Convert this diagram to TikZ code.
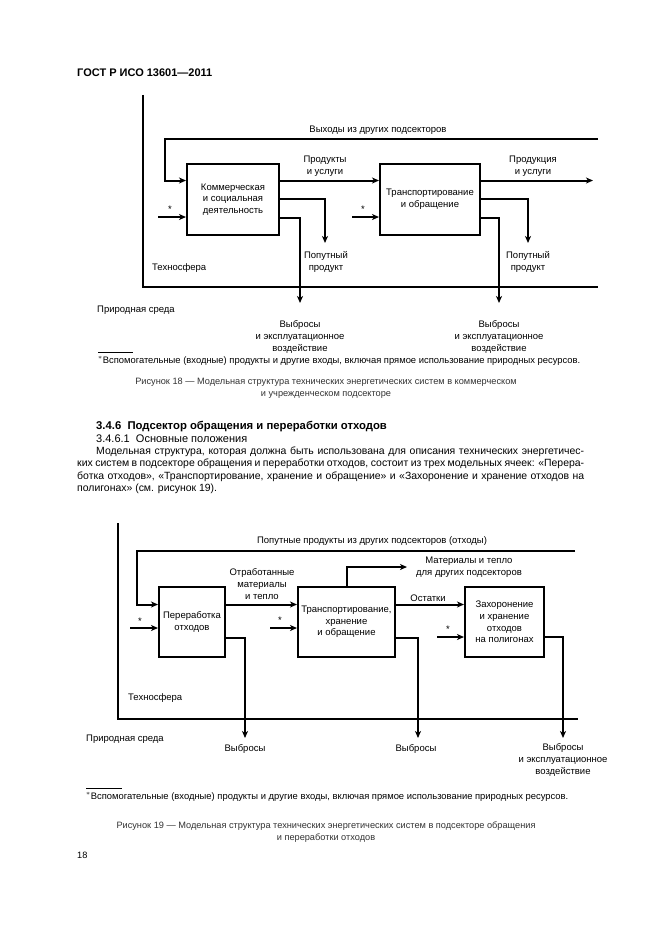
\documentclass[tikz,border=0pt]{standalone}
\usepackage{fontspec}
\setmainfont{Liberation Sans}
\usetikzlibrary{arrows.meta,calc}
\newcommand\dgf{\fontsize{9.5}{11.6}\selectfont}
\newcommand\bdf{\fontsize{10.45}{12.5}\selectfont}
\newcommand\cpf{\fontsize{9.2}{12}\selectfont}
\newcommand\fnf{\fontsize{9.4}{10}\selectfont}
\tikzset{
  ln/.style={line width=2pt},
  arr/.style={line width=2pt,-{Stealth[length=7pt,width=6pt,inset=2pt]}},
  blk/.style={draw,line width=2pt,inner sep=0pt,font=\dgf,align=center},
  lbl/.style={font=\dgf,align=center,inner sep=0pt},
  lbw/.style={font=\dgf,anchor=west,inner sep=0pt},
  body/.style={font=\bdf,anchor=west,inner sep=0pt},
  captxt/.style={font=\cpf,align=center,inner sep=0pt,text=black!80},
  fn/.style={font=\fnf,anchor=west,inner sep=0pt},
}
\begin{document}
\begin{tikzpicture}[x=1pt,y=-1pt]
\useasboundingbox[fill=white] (0,0) rectangle (661,936);
% header
\node[anchor=west,inner sep=0pt,font=\fontsize{11}{13}\selectfont\bfseries] (hdr) at (77,73) {ГОСТ Р ИСО 13601—2011};

% ---------------- Figure 18 ----------------
\coordinate (f18tl) at (143,95);
\coordinate (f18bl) at (143,287);
\coordinate (f18br) at (598,287);
\draw[ln] (f18tl) -- (f18bl) -- (f18br);
\node[lbl] (vyh) at (378,130) {Выходы из других подсекторов};
\coordinate (t18r) at (598,139);
\coordinate (t18l) at (165,139);
\node[blk,minimum width=92pt,minimum height=71pt] (b1) at (233,199.5) {Коммерческая\\и социальная\\деятельность};
\node[blk,minimum width=100pt,minimum height=71pt] (b2) at (430,199.5) {Транспортирование\\и обращение};
\coordinate (b1i1) at ($(b1.north west)!.24!(b1.south west)$);
\coordinate (b1i2) at ($(b1.north west)!.74!(b1.south west)$);
\coordinate (b1o1) at ($(b1.north east)!.24!(b1.south east)$);
\coordinate (b1o2) at ($(b1.north east)!.49!(b1.south east)$);
\coordinate (b1o3) at ($(b1.north east)!.76!(b1.south east)$);
\coordinate (b2i2) at ($(b2.north west)!.74!(b2.south west)$);
\coordinate (b2o2) at ($(b2.north east)!.49!(b2.south east)$);
\coordinate (b2o3) at ($(b2.north east)!.76!(b2.south east)$);
\draw[arr] (t18r) -- (t18l) |- (b1i1);
\coordinate (s1) at (158,0);
\node[lbl] (s1l) at (170,209) {*};
\draw[arr] (s1 |- b1i2) -- (b1i2);
\coordinate (s2) at (352,0);
\node[lbl] (s2l) at (363,209) {*};
\draw[arr] (s2 |- b2i2) -- (b2i2);
\draw[arr] (b1o1) -- (b1o1 -| b2.west);
\node[lbl] (pu) at (325,166) {Продукты\\и услуги};
\coordinate (pp1) at (325,243);
\draw[arr] (b1o2) -| (pp1);
\coordinate (vb1) at (300,303);
\draw[arr] (b1o3) -| (vb1);
\coordinate (po2) at (593,0);
\draw[arr] (b1o1 -| b2.east) -- (b1o1 -| po2);
\node[lbl] (pru) at (533,166) {Продукция\\и услуги};
\coordinate (pp2) at (528,243);
\draw[arr] (b2o2) -| (pp2);
\coordinate (vb2) at (499,303);
\draw[arr] (b2o3) -| (vb2);
\node[lbl] (ppl1) at (326,262) {Попутный\\продукт};
\node[lbl] (ppl2) at (528,262) {Попутный\\продукт};
\node[lbw] (tex1) at (152,268) {Техносфера};
\node[lbw] (pri1) at (97,310) {Природная среда};
\node[lbl] (vbl1) at (300,337) {Выбросы\\и эксплуатационное\\воздействие};
\node[lbl] (vbl2) at (499,337) {Выбросы\\и эксплуатационное\\воздействие};
\coordinate (fl1a) at (98,352);
\coordinate (fl1b) at (133,352);
\draw[line width=0.8pt] (fl1a) -- (fl1b);
\node[fn] (fn1) at (98,361) {$^{*}$Вспомогательные (входные) продукты и другие входы, включая прямое использование природных ресурсов.};
\node[captxt] (cap18) at (326,388) {Рисунок 18 — Модельная структура технических энергетических систем в коммерческом\\и учрежденческом подсекторе};

% ---------------- Text ----------------
\node[body,font=\fontsize{11.3}{13}\selectfont\bfseries] (h346) at (96,427) {3.4.6\ \ Подсектор обращения и переработки отходов};
\node[body,font=\fontsize{11}{13}\selectfont] (h3461) at (96,439) {3.4.6.1\ \ Основные положения};
\node[body] (p1) at (96,452) {\makebox[488pt][s]{Модельная структура, которая должна быть использована для описания технических энергетичес-}};
\node[body] (p2) at (77,464) {\makebox[507pt][s]{ких систем в подсекторе обращения и переработки отходов, состоит из трех модельных ячеек: «Перера-}};
\node[body] (p3) at (77,477) {\makebox[507pt][s]{ботка отходов», «Транспортирование, хранение и обращение» и «Захоронение и хранение отходов на}};
\node[body] (p4) at (77,489) {полигонах» (см. рисунок 19).};

% ---------------- Figure 19 ----------------
\coordinate (f19tl) at (118,523);
\coordinate (f19bl) at (118,719);
\coordinate (f19br) at (578,719);
\draw[ln] (f19tl) -- (f19bl) -- (f19br);
\node[lbl] (ppd) at (372,541) {Попутные продукты из других подсекторов (отходы)};
\coordinate (t19r) at (575,551);
\coordinate (t19l) at (137,551);
\node[blk,minimum width=66pt,minimum height=70pt] (c1) at (192,622) {Переработка\\отходов};
\node[blk,minimum width=97pt,minimum height=70pt] (c2) at (346.5,622) {Транспортирование,\\хранение\\и обращение};
\node[blk,minimum width=79pt,minimum height=70pt] (c3) at (504.5,622) {Захоронение\\и хранение\\отходов\\на полигонах};
\coordinate (c1i1) at ($(c1.north west)!.257!(c1.south west)$);
\coordinate (c1o2) at ($(c1.north east)!.729!(c1.south east)$);
\coordinate (c2o2) at ($(c2.north east)!.729!(c2.south east)$);
\coordinate (c3o2) at ($(c3.north east)!.714!(c3.south east)$);
\draw[arr] (t19r) -- (t19l) |- (c1i1);
\coordinate (u1) at (130,628);
\node[lbl] (u1l) at (140,621) {*};
\draw[arr] (u1) -- (u1 -| c1.west);
\coordinate (u2) at (270,628);
\node[lbl] (u2l) at (280,620) {*};
\draw[arr] (u2) -- (u2 -| c2.west);
\coordinate (u3) at (437,637);
\node[lbl] (u3l) at (448,629) {*};
\draw[arr] (u3) -- (u3 -| c3.west);
\draw[arr] (c1i1 -| c1.east) -- (c1i1 -| c2.west);
\node[lbl] (otm) at (262,584) {Отработанные\\материалы\\и тепло};
\draw[arr] (c1i1 -| c2.east) -- (c1i1 -| c3.west);
\node[lbl] (ost) at (428,598) {Остатки};
\coordinate (mt) at (407,567);
\draw[arr] (c2.north) |- (mt);
\node[lbl] (mtl) at (469,567) {Материалы и тепло\\для других подсекторов};
\coordinate (w1) at (245,738);
\draw[arr] (c1o2) -| (w1);
\coordinate (w2) at (418,738);
\draw[arr] (c2o2) -| (w2);
\coordinate (w3) at (563,738);
\draw[arr] (c3o2) -| (w3);
\node[lbw] (tex2) at (128,698) {Техносфера};
\node[lbw] (pri2) at (86,739) {Природная среда};
\node[lbl] (wl1) at (245,749) {Выбросы};
\node[lbl] (wl2) at (416,749) {Выбросы};
\node[lbl] (wl3) at (563,760) {Выбросы\\и эксплуатационное\\воздействие};
\coordinate (fl2a) at (86,788);
\coordinate (fl2b) at (122,788);
\draw[line width=0.8pt] (fl2a) -- (fl2b);
\node[fn] (fn2) at (86,797) {$^{*}$Вспомогательные (входные) продукты и другие входы, включая прямое использование природных ресурсов.};
\node[captxt] (cap19) at (326,832) {Рисунок 19 — Модельная структура технических энергетических систем в подсекторе обращения\\и переработки отходов};
\node[anchor=west,inner sep=0pt,font=\cpf] (pg) at (77,855) {18};
\end{tikzpicture}
\end{document}
